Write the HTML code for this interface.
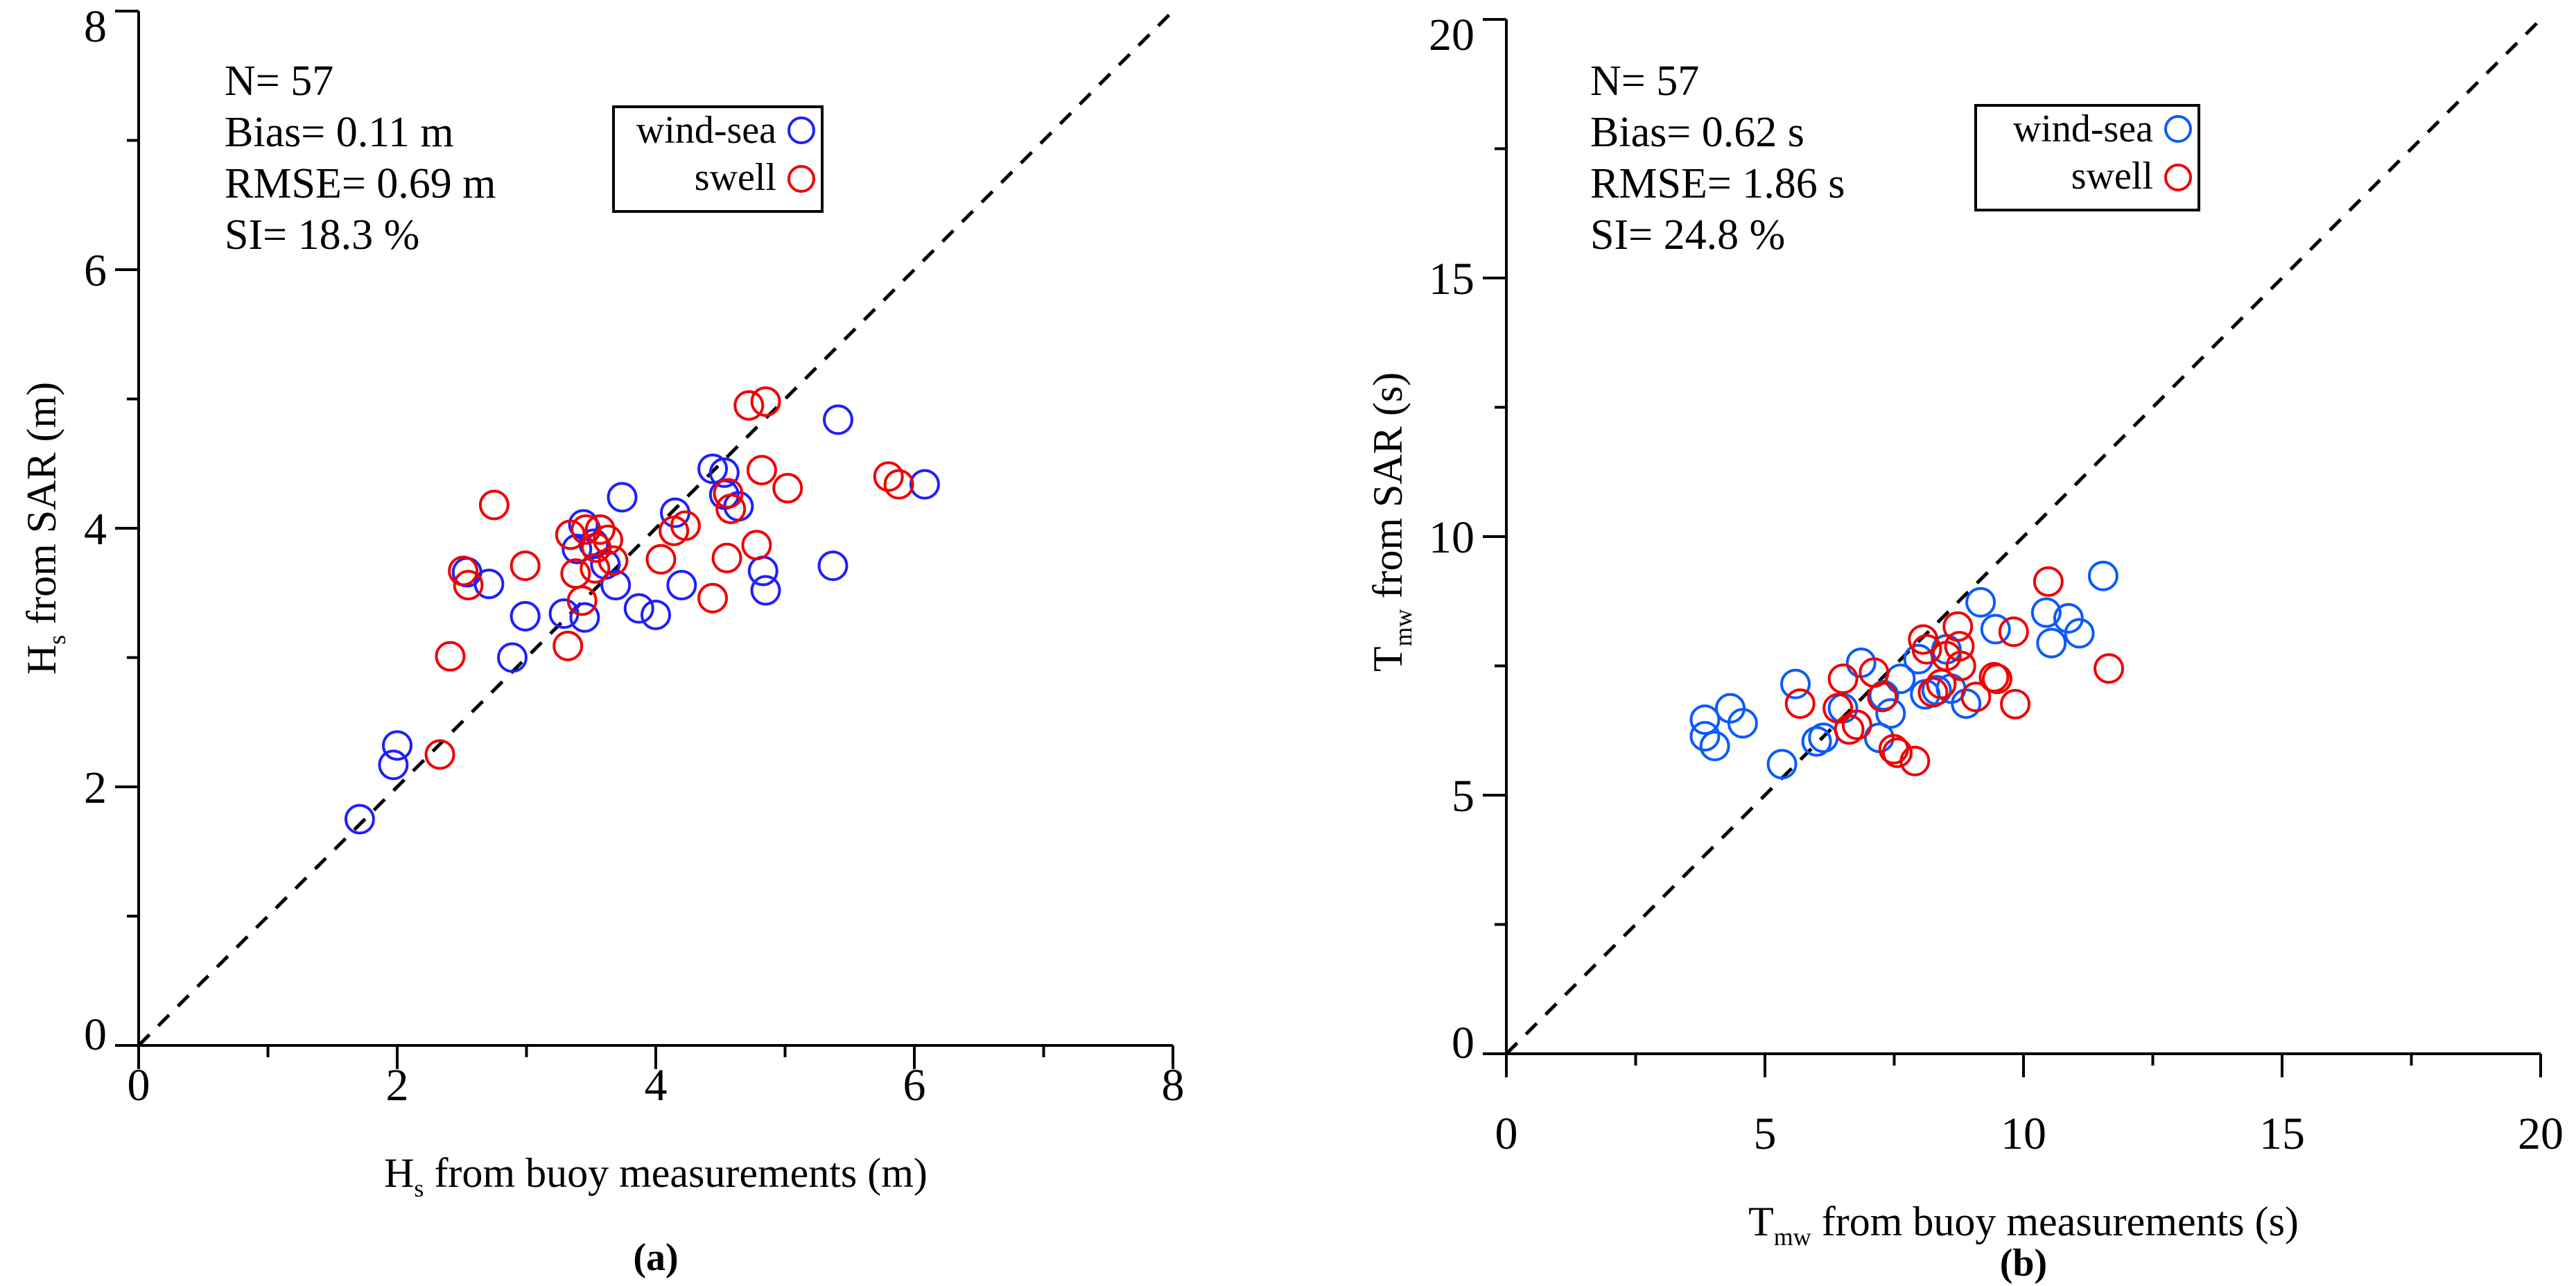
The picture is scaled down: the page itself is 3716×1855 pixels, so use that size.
<!DOCTYPE html>
<html><head><meta charset="utf-8"><style>
html,body{margin:0;padding:0;background:#fff;}
svg{display:block;font-family:"Liberation Serif",serif;}
</style></head><body>
<svg id="fig" width="3716" height="1855" viewBox="0 0 3716 1855" xmlns="http://www.w3.org/2000/svg">
<g id="pa"></g>
<g id="pb"></g>
</svg>
<script>
// Panel (a) data: Hs
const aWindX = [1.71,1.97,2.0,2.54,2.71,2.89,2.99,3.29,3.44,3.39,3.45,3.52,3.61,3.69,3.74,3.87,4.0,4.15,4.2,4.44,4.53,4.53,4.64,4.83,4.85,5.37,5.41,6.08];
const aWindY = [1.75,2.17,2.32,3.66,3.57,3.0,3.32,3.34,4.03,3.84,3.31,3.88,3.72,3.56,4.24,3.38,3.33,4.12,3.56,4.46,4.43,4.26,4.17,3.67,3.52,3.71,4.84,4.34];
const aSwellX = [2.33,2.41,2.51,2.55,2.75,2.99,3.32,3.34,3.38,3.43,3.46,3.54,3.57,3.63,3.67,3.53,4.04,4.14,4.23,4.44,4.56,4.58,4.55,4.72,4.85,4.78,4.82,5.02,5.8,5.88];
const aSwellY = [2.25,3.01,3.67,3.56,4.18,3.71,3.09,3.95,3.65,3.44,3.99,3.85,3.99,3.91,3.75,3.69,3.76,3.98,4.02,3.46,4.27,4.15,3.77,4.95,4.98,3.87,4.45,4.31,4.4,4.34];
const aTicks = [0,2,4,6,8];
// Panel (b) data: Tmw
const bWindX = [3.84,3.84,4.03,4.33,4.57,5.33,5.59,6.0,6.13,6.51,6.86,7.21,7.3,7.43,7.62,7.97,8.1,8.32,8.51,8.6,8.89,9.17,9.46,10.44,10.54,10.87,11.08,11.54];
const bWindY = [6.46,6.14,5.95,6.68,6.39,5.6,7.15,6.04,6.11,6.68,7.56,6.11,6.93,6.58,7.25,7.63,6.95,7.03,7.82,7.06,6.77,8.73,8.21,8.53,7.94,8.42,8.13,9.24];
const bSwellX = [5.68,6.51,6.41,6.63,6.78,7.11,7.27,7.49,7.56,7.9,8.06,8.13,8.25,8.41,8.51,8.73,8.76,8.79,9.08,9.43,9.49,9.81,9.84,10.48,11.65];
const bSwellY = [6.77,7.25,6.68,6.27,6.36,7.37,6.9,5.89,5.82,5.66,8.01,7.82,6.99,7.15,7.69,8.26,7.88,7.5,6.9,7.28,7.25,8.16,6.76,9.13,7.45];
const bTicks = [0,5,10,15,20];

const NS="http://www.w3.org/2000/svg";
function mk(parent,tag,attrs,text){const e=document.createElementNS(NS,tag);for(const k in attrs)e.setAttribute(k,attrs[k]);if(text!==undefined)e.textContent=text;parent.appendChild(e);return e;}

function panel(g,cfg){
  const sx=v=>cfg.x0+(v/cfg.max)*(cfg.x1-cfg.x0);
  const sy=v=>cfg.y0-(v/cfg.max)*(cfg.y0-cfg.y1);
  const d=mk(g,'line',{x1:sx(0),y1:sy(0),x2:sx(cfg.max),y2:sy(cfg.max),stroke:'#000','stroke-width':5,'stroke-dasharray':'22 18'});
  
  
  const ax=mk(g,'line',{x1:cfg.x0-30,y1:cfg.y0,x2:sx(cfg.max),y2:cfg.y0,stroke:'#000','stroke-width':4});
  
  
  const ay=mk(g,'line',{x1:cfg.x0,y1:cfg.y0+34,x2:cfg.x0,y2:sy(cfg.max),stroke:'#000','stroke-width':4});
  
  
  for(let v=0;v<=cfg.max+1e-9;v+=cfg.minor){
    const major=cfg.ticks.some(t=>Math.abs(t-v)<1e-9);
    const L=major?34:17;
    mk(g,'line',{x1:sx(v),y1:cfg.y0,x2:sx(v),y2:cfg.y0+L,stroke:'#000','stroke-width':4});
    mk(g,'line',{x1:cfg.x0,y1:sy(v),x2:cfg.x0-L,y2:sy(v),stroke:'#000','stroke-width':4});
  }
  cfg.ticks.forEach(t=>{
    const tx=mk(g,'text',{x:sx(t),y:cfg.xtickY,'font-size':66,'text-anchor':'middle'},String(t));
    
    
    let yy=sy(t)+23; if(t===cfg.max) yy=sy(t)+44; if(t===0) yy=sy(t)+6;
    const ty=mk(g,'text',{x:cfg.x0-46,y:yy,'font-size':66,'text-anchor':'end'},String(t));
    
    
  });
  function pts(xs,ys,col,name){
    xs.forEach((x,i)=>{
      const c=mk(g,'circle',{cx:sx(x),cy:sy(ys[i]),r:20,fill:'none',stroke:col,'stroke-width':4});
      
      
    });
  }
  pts(cfg.wx,cfg.wy,cfg.blue,'wind-sea-point');
  pts(cfg.swx,cfg.swy,'#f00000','swell-point');
  cfg.stats.forEach((s,i)=>{
    const t=mk(g,'text',{x:cfg.statX,y:cfg.statY+i*74,'font-size':62},s);
    
    
  });
  const lb=mk(g,'rect',{x:cfg.lx,y:cfg.ly,width:cfg.lw,height:151,fill:'#fff',stroke:'#000','stroke-width':4});
  
  
  const t1=mk(g,'text',{x:cfg.lx+cfg.lw-66,y:cfg.ly+52,'font-size':56,'text-anchor':'end'},'wind-sea');
  
  
  const c1=mk(g,'circle',{cx:cfg.lx+cfg.lw-30,cy:cfg.ly+34,r:18,fill:'none',stroke:cfg.blue,'stroke-width':4});
  
  
  const t2=mk(g,'text',{x:cfg.lx+cfg.lw-66,y:cfg.ly+120,'font-size':56,'text-anchor':'end'},'swell');
  
  
  const c2=mk(g,'circle',{cx:cfg.lx+cfg.lw-30,cy:cfg.ly+104,r:18,fill:'none',stroke:'#f00000','stroke-width':4});
  
  
  const xt=mk(g,'text',{x:(cfg.x0+sx(cfg.max))/2,y:cfg.xtitleY,'font-size':60,'text-anchor':'middle'});
  
  
  mk(xt,'tspan',{},cfg.sym);
  mk(xt,'tspan',{'font-size':36,dy:14},cfg.sub);
  mk(xt,'tspan',{dy:-14},' from buoy measurements ('+cfg.unit+')');
  const yt=mk(g,'text',{x:0,y:0,'font-size':60,'text-anchor':'middle',transform:`translate(${cfg.ytitleX},${cfg.ytitleY}) rotate(-90)`});
  
  
  mk(yt,'tspan',{},cfg.sym);
  mk(yt,'tspan',{'font-size':36,dy:14},cfg.sub);
  mk(yt,'tspan',{dy:-14},' from SAR ('+cfg.unit+')');
  const pl=mk(g,'text',{x:(cfg.x0+sx(cfg.max))/2,y:cfg.plY,'font-size':56,'font-weight':'bold','text-anchor':'middle'},cfg.plabel);
  
  
}

panel(document.getElementById('pa'),{x0:200,x1:1692,y0:1508,y1:16,max:8,minor:1,ticks:aTicks,
  wx:aWindX,wy:aWindY,swx:aSwellX,swy:aSwellY,blue:'#1f1fff',
  stats:['N= 57','Bias= 0.11 m','RMSE= 0.69 m','SI= 18.3 %'],statX:324,statY:137,
  lx:885,ly:154,lw:301,xtickY:1587,xtitleY:1712,ytitleX:80,ytitleY:762,plY:1832,
  sym:'H',sub:'s',unit:'m',plabel:'(a)'});
panel(document.getElementById('pb'),{x0:2173,x1:3665,y0:1520,y1:28,max:20,minor:2.5,ticks:bTicks,
  wx:bWindX,wy:bWindY,swx:bSwellX,swy:bSwellY,blue:'#0a5aff',
  stats:['N= 57','Bias= 0.62 s','RMSE= 1.86 s','SI= 24.8 %'],statX:2294,statY:137,
  lx:2850,ly:152,lw:322,xtickY:1657,xtitleY:1782,ytitleX:2022,ytitleY:753,plY:1840,
  sym:'T',sub:'mw',unit:'s',plabel:'(b)'});
</script>
</body></html>
